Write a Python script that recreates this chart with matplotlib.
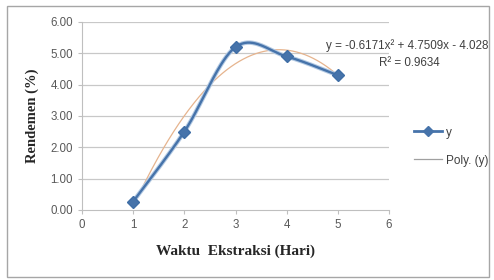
import numpy as np
import matplotlib
matplotlib.use("Agg")
import matplotlib.pyplot as plt
from matplotlib.lines import Line2D
from matplotlib.patches import Rectangle

# ---- data ----
days = [1, 2, 3, 4, 5]
yield_pct = [0.27, 2.50, 5.20, 4.90, 4.30]
poly_coef = [-0.6171, 4.7509, -4.028]
eq_text = "y = -0.6171x² + 4.7509x - 4.028"
r2_text = "R² = 0.9634"
xticks = [0, 1, 2, 3, 4, 5, 6]
yticks = [0, 1, 2, 3, 4, 5, 6]
ytick_labels = ["0.00", "1.00", "2.00", "3.00", "4.00", "5.00", "6.00"]
x_label = "Waktu  Ekstraksi (Hari)"
y_label = "Rendemen (%)"
legend_labels = ["y", "Poly. (y)"]

W, H = 494, 280
fig = plt.figure(figsize=(W / 100, H / 100), dpi=100)
fig.patch.set_facecolor("white")

# outer chart border
fig.patches.append(Rectangle((7 / W, 1 - 277 / H), (489 - 7) / W, (277 - 6) / H,
                             transform=fig.transFigure, fill=False,
                             edgecolor="#a6a6a6", lw=1.0))

ax = fig.add_axes([82 / W, 1 - 210 / H, (389 - 82) / W, (210 - 22) / H])
ax.set_xlim(0, 6)
ax.set_ylim(0, 6)

# gridlines
for yv in yticks[1:]:
    ax.axhline(yv, color="#c8c8c8", lw=0.9, zorder=0)

for s in ["top", "right"]:
    ax.spines[s].set_visible(False)
ax.spines["left"].set_color("#bfbfbf")
ax.spines["bottom"].set_color("#bfbfbf")

ax.set_xticks(xticks)
ax.set_xticklabels([str(v) for v in xticks])
ax.set_yticks(yticks)
ax.set_yticklabels(ytick_labels)
ax.tick_params(axis="both", colors="#bfbfbf", labelcolor="#595959",
               labelsize=8.3, length=3, direction="out")
for lab in ax.get_xticklabels() + ax.get_yticklabels():
    lab.set_family("Liberation Sans")

# Excel-like smoothed line (Bezier with 1/6 tangent control points)
P = np.column_stack([days, yield_pct]).astype(float)
ext = np.vstack([P[0], P, P[-1]])
curve = []
t = np.linspace(0, 1, 40)[:, None]
for i in range(len(P) - 1):
    p0, p1, p2, p3 = ext[i], ext[i + 1], ext[i + 2], ext[i + 3]
    c1 = p1 + (p2 - p0) / 6
    c2 = p2 - (p3 - p1) / 6
    seg = ((1 - t) ** 3) * p1 + 3 * ((1 - t) ** 2) * t * c1 + 3 * (1 - t) * t ** 2 * c2 + t ** 3 * p2
    curve.append(seg)
curve = np.vstack(curve)

ax.plot(curve[:, 0], curve[:, 1], color="#b4cae3", lw=3.2, zorder=3, solid_capstyle="round")
ax.plot(curve[:, 0], curve[:, 1], color="#4673aa", lw=1.7, zorder=4, solid_capstyle="round")
ax.plot(days, yield_pct, linestyle="none", marker="D", ms=6.5, color="#4673aa",
        markeredgecolor="#3f6ea6", zorder=5)

# polynomial trendline
xt = np.linspace(days[0], days[-1], 200)
ax.plot(xt, np.polyval(poly_coef, xt), color="#e6b48e", lw=0.9, zorder=2)

# labels
ax.set_xlabel(x_label, family="Liberation Serif", fontweight="bold", fontsize=11,
              color="#262626", labelpad=10)
ax.set_ylabel(y_label, family="Liberation Serif", fontweight="bold", fontsize=10.5,
              color="#262626", labelpad=8)

# equation text
fig.text(326 / W, 1 - 46 / H, eq_text, fontsize=8.4, color="#404040",
         family="Liberation Sans", va="center", ha="left")
fig.text(409 / W, 1 - 63 / H, r2_text, fontsize=8.4, color="#404040",
         family="Liberation Sans", va="center", ha="center")

# legend
handles = [Line2D([0], [0], color="#4673aa", lw=2, marker="D", ms=5),
           Line2D([0], [0], color="#a0a0a0", lw=0.9)]
leg = fig.legend(handles, legend_labels, loc="upper left",
                 bbox_to_anchor=(403 / W, 1 - 116 / H), frameon=False,
                 prop={"family": "Liberation Sans", "size": 8.5},
                 handlelength=2.4, handletextpad=0.3, labelspacing=1.35)
for txt in leg.get_texts():
    txt.set_color("#404040")

fig.savefig("out.png", dpi=100, facecolor="white")
